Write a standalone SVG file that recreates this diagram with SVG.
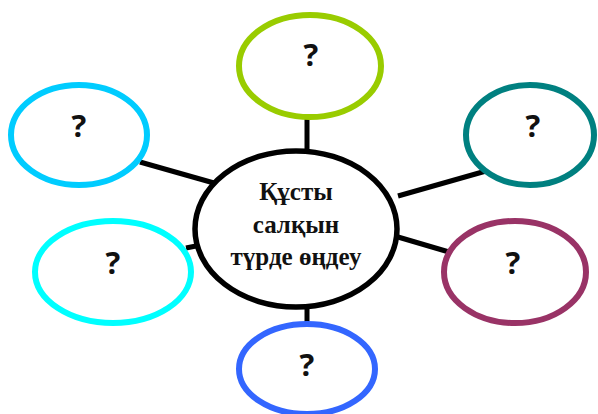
<svg xmlns="http://www.w3.org/2000/svg" width="598" height="414" viewBox="0 0 598 414">
  <style>
    .link { stroke: #000; stroke-width: 5; fill: none; }
    .bubble { fill: #fff; stroke-width: 6; }
    .hub { fill: #fff; stroke: #000; stroke-width: 5.5; }
    .q { font-family: "Open Sans", "DejaVu Sans", sans-serif; font-weight: bold; font-size: 31px; text-anchor: middle; fill: #111; }
    .title { font-family: "Liberation Serif", "Times New Roman", serif; font-weight: bold; font-size: 25px; text-anchor: middle; fill: #111; }
  </style>
  <rect width="598" height="414" fill="#fff"/>
  <g id="connectors">
    <line class="link" x1="307" y1="118" x2="307" y2="154"/>
    <line class="link" x1="140" y1="162" x2="214" y2="183"/>
    <line class="link" x1="398" y1="196" x2="486" y2="171"/>
    <line class="link" x1="186" y1="248" x2="196" y2="246"/>
    <line class="link" x1="398" y1="237" x2="449" y2="252"/>
    <line class="link" x1="307" y1="304" x2="307" y2="325"/>
  </g>
  <g id="hub">
    <ellipse class="hub" cx="296" cy="229" rx="101" ry="78"/>
    <text class="title" x="296" y="200">Құсты</text>
    <text class="title" x="296" y="233">салқын</text>
    <text class="title" x="296" y="265">түрде өңдеу</text>
  </g>
  <g id="node-top">
    <ellipse class="bubble" stroke="#99cc00" cx="310" cy="66" rx="71" ry="51"/>
    <text class="q" x="311" y="66">?</text>
  </g>
  <g id="node-top-left">
    <ellipse class="bubble" stroke="#00ccff" cx="79" cy="135" rx="68" ry="50"/>
    <text class="q" x="79" y="137">?</text>
  </g>
  <g id="node-top-right">
    <ellipse class="bubble" stroke="#008080" cx="530" cy="135" rx="64" ry="50"/>
    <text class="q" x="533" y="137">?</text>
  </g>
  <g id="node-bottom-left">
    <ellipse class="bubble" stroke="#00ffff" cx="113" cy="272" rx="78" ry="51"/>
    <text class="q" x="113" y="274">?</text>
  </g>
  <g id="node-bottom-right">
    <ellipse class="bubble" stroke="#993366" cx="515" cy="272" rx="71" ry="51"/>
    <text class="q" x="513" y="274">?</text>
  </g>
  <g id="node-bottom">
    <ellipse class="bubble" stroke="#3366ff" cx="307" cy="369" rx="68" ry="45"/>
    <text class="q" x="307" y="376">?</text>
  </g>
</svg>
